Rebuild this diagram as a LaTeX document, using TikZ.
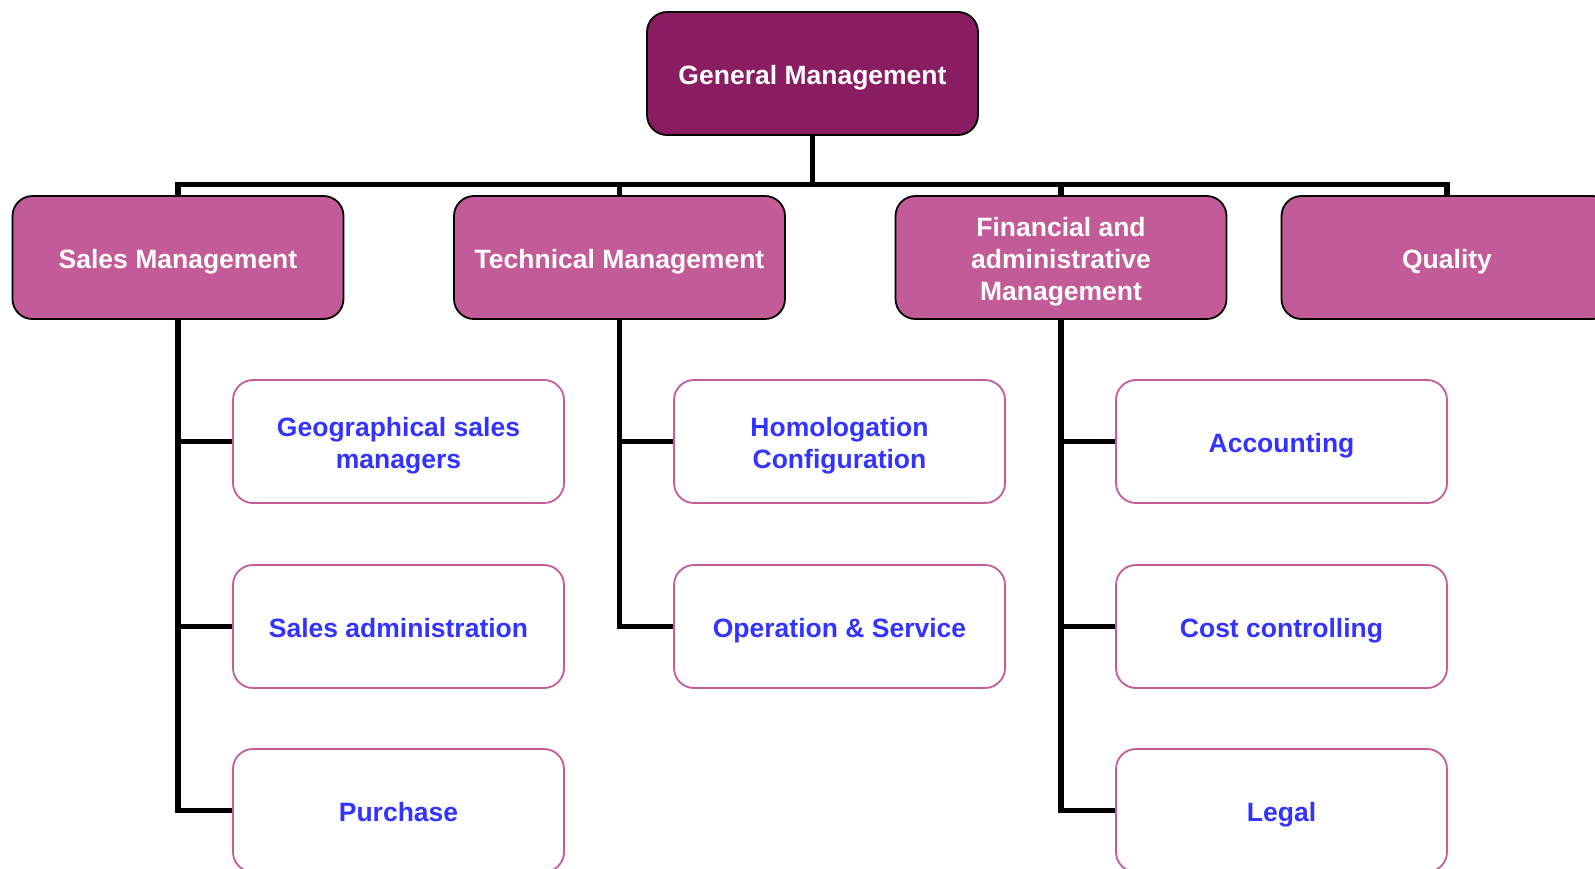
\documentclass[tikz,border=0pt]{standalone}
\usepackage{fontspec}
\setmainfont{Liberation Sans}
\definecolor{gmfill}{RGB}{138,28,98}
\definecolor{l2fill}{RGB}{194,91,152}
\definecolor{childborder}{RGB}{196,92,153}
\definecolor{childtext}{RGB}{51,51,255}
\begin{document}
\begin{tikzpicture}[x=1pt,y=-1pt,
  boxbase/.style={rectangle,rounded corners=20pt,minimum width=331pt,minimum height=123pt,
    inner sep=0pt,align=center,text height=21pt,text depth=0pt,
    font=\fontsize{26.5}{32}\selectfont\bfseries},
  twoline/.style={text height=53pt,text depth=0pt},
  threeline/.style={text height=85pt,text depth=0pt},
  topbox/.style={boxbase,draw=black,line width=1.8pt,fill=gmfill,text=white},
  midbox/.style={boxbase,draw=black,line width=1.8pt,fill=l2fill,text=white},
  childbox/.style={boxbase,draw=childborder,line width=1.8pt,fill=white,text=childtext},
  conn/.style={draw=black,line width=5.5pt}]
\useasboundingbox (0,0) rectangle (1595,868);
\clip (0,0) rectangle (1595,868);
\fill[white] (0,0) rectangle (1595,868);
\coordinate (bus) at (0,184.5);
\node[topbox] (gm) at (812.5,73.5) {General Management};
\node[midbox] (sales) at (178,257.5) {Sales Management};
\node[midbox] (tech) at (619.5,257.5) {Technical Management};
\node[midbox,threeline] (fin) at (1061,257.5) {Financial and\\administrative\\Management};
\node[midbox] (qual) at (1447,257.5) {Quality};
\node[childbox,twoline] (geo) at (398.5,441.5) {Geographical sales\\managers};
\node[childbox] (sadm) at (398.5,626.5) {Sales administration};
\node[childbox] (purch) at (398.5,810.5) {Purchase};
\node[childbox,twoline] (homo) at (839.5,441.5) {Homologation\\Configuration};
\node[childbox] (oper) at (839.5,626.5) {Operation \& Service};
\node[childbox] (acc) at (1281.5,441.5) {Accounting};
\node[childbox] (cost) at (1281.5,626.5) {Cost controlling};
\node[childbox] (legal) at (1281.5,810.5) {Legal};
\draw[conn] (gm.south) -- (gm.south |- bus);
\draw[conn] (sales.north) -- (sales.north |- bus) -- (qual.north |- bus) -- (qual.north);
\draw[conn] (tech.north |- bus) -- (tech.north);
\draw[conn] (fin.north |- bus) -- (fin.north);
\draw[conn] (sales.south) |- (purch.west);
\draw[conn] (sales.south |- geo.west) -- (geo.west);
\draw[conn] (sales.south |- sadm.west) -- (sadm.west);
\draw[conn] (tech.south) |- (oper.west);
\draw[conn] (tech.south |- homo.west) -- (homo.west);
\draw[conn] (fin.south) |- (legal.west);
\draw[conn] (fin.south |- acc.west) -- (acc.west);
\draw[conn] (fin.south |- cost.west) -- (cost.west);
\end{tikzpicture}
\end{document}
